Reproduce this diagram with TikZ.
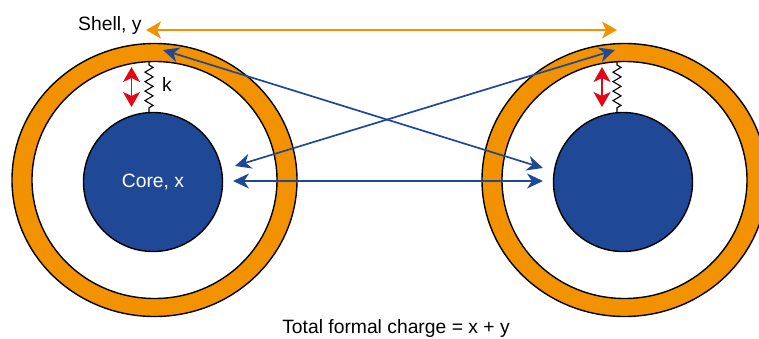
\documentclass[tikz,border=0pt]{standalone}
\usepackage{fontspec}
\setmainfont{Liberation Sans}
\usetikzlibrary{arrows.meta,decorations.pathmorphing}
\definecolor{shellorange}{RGB}{243,146,0}
\definecolor{coreblue}{RGB}{31,73,150}
\definecolor{springred}{RGB}{227,6,19}

\begin{document}
\begin{tikzpicture}[x=1pt, y=-1pt,
    font=\fontsize{19.3}{23}\selectfont,
    shell/.style={draw=black, line width=1.4pt, fill=shellorange, even odd rule},
    core/.style={circle, draw=black, line width=1.4pt, fill=coreblue, text=white,
        minimum size=139pt, inner sep=0pt},
    spring/.style={line width=1.1pt, decorate,
        decoration={zigzag, segment length=9.5pt, amplitude=4pt, pre length=3pt, post length=3pt}},
    bluearrow/.style={coreblue, line width=1.7pt, >={Stealth[length=16pt, width=15pt, inset=5pt]}, <->},
    redarrow/.style={springred, line width=1.8pt, >={Stealth[length=15pt, width=17pt, inset=4pt]}, <->},
    orangearrow/.style={shellorange, line width=1.8pt, >={Stealth[length=15pt, width=17pt, inset=4pt]}, <->},
    label/.style={inner sep=0pt}]
    \useasboundingbox (0,0) rectangle (759,338);
    \clip (0,0) rectangle (759,338);

    % left atom
    \begin{scope}[shift={(154.5,180)}]
        \draw[shell] (0,0) ellipse (142.5 and 136.5) (0,0) ellipse (122.5 and 118.5);
        \node[core] (coreL) at (-1.5,2) {Core, x};
        \coordinate (springtopL) at (-5.5,-118);
        \draw[spring] (springtopL) -- (springtopL |- coreL.north);
        \node[label, anchor=base west] (klabel) at (7.5,-89) {k};
        \coordinate (redtopL) at (-23,-113);
        \coordinate (redbotL) at (-23,-73);
        \draw[redarrow] (redtopL) -- (redbotL);
        \coordinate (shelltipL) at (8.5,-130);
        \coordinate (coretipL) at (80.5,-14);
        \coordinate (coremidL) at (78.5,1);
    \end{scope}

    % right atom
    \begin{scope}[shift={(624.5,180)}]
        \draw[shell] (0,0) ellipse (142.5 and 136.5) (0,0) ellipse (122.5 and 118.5);
        \node[core] (coreR) at (-1.5,2) {};
        \coordinate (springtopR) at (-7.5,-118);
        \draw[spring] (springtopR) -- (springtopR |- coreR.north);
        \coordinate (redtopR) at (-22.5,-113);
        \coordinate (redbotR) at (-22.5,-73);
        \draw[redarrow] (redtopR) -- (redbotR);
        \coordinate (shelltipR) at (-9.5,-130);
        \coordinate (coretipR) at (-81.5,-12);
        \coordinate (coremidR) at (-81.5,1);
    \end{scope}

    % interactions
    \draw[bluearrow] (coremidL) -- (coremidR);
    \draw[bluearrow] (shelltipL) -- (coretipR);
    \draw[bluearrow] (coretipL) -- (shelltipR);

    \node[label, anchor=base west] (shelllabel) at (78,30) {Shell, y};
    \coordinate (orangeL) at (146,30);
    \coordinate (orangeR) at (617,30);
    \draw[orangearrow] (orangeL) -- (orangeR);

    \node[label, anchor=base] (chargelabel) at (396,333) {Total formal charge = x + y};
\end{tikzpicture}
\end{document}
